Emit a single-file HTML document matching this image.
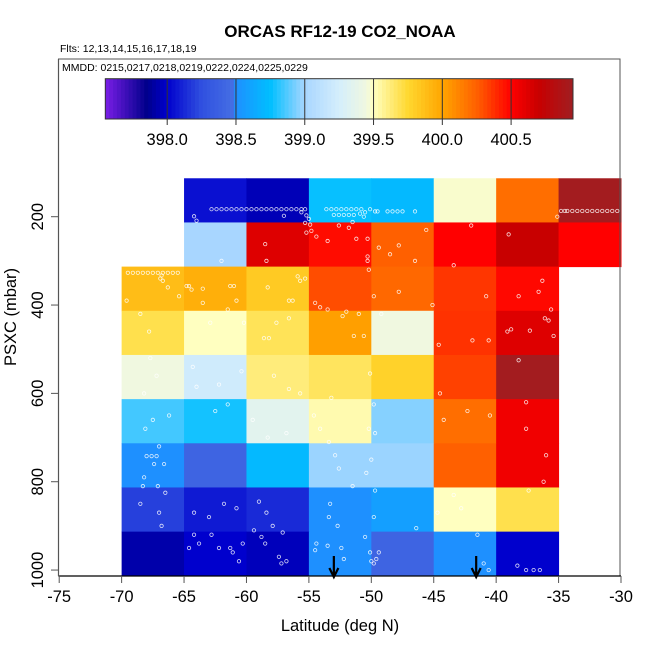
<!DOCTYPE html>
<html><head><meta charset="utf-8"><style>
body{margin:0;background:#fff}
svg{display:block;font-family:"Liberation Sans",sans-serif}
</style></head><body>
<svg id="chart" width="650" height="650" viewBox="0 0 650 650">
<text x="340" y="37" font-size="17" font-weight="bold" text-anchor="middle">ORCAS RF12-19 CO2_NOAA</text>
<text x="60" y="52" font-size="10.5">Flts: 12,13,14,15,16,17,18,19</text>
<g id="cells"></g>
<g id="dots"></g>
<rect x="58.5" y="59" width="561.5" height="517" fill="none" stroke="#555" stroke-width="1"/>
<text x="62" y="71" font-size="10.5">MMDD: 0215,0217,0218,0219,0222,0224,0225,0229</text>
<g id="cbar"></g>
<g id="axes"></g>
<g id="arrows"></g>
<text x="340" y="631" font-size="16.5" text-anchor="middle">Latitude (deg N)</text>
<text transform="translate(16,317) rotate(-90)" font-size="16.5" text-anchor="middle">PSXC (mbar)</text>
</svg>
<script>
const latEdges = [-70,-65,-60,-55,-50,-45,-40,-35];
const presEdges = [113,213,313,413,513,613,713,813,913,1013];
// rows top->bottom (pressure bins), columns -70..-35 ; null = no data
const row0 = [null,398.05,397.95,398.76,398.72,399.48,400.2,400.93];
const row1 = [null,399.0,400.62,400.47,400.25,400.5,400.7,400.5];
const row2 = [399.88,399.95,399.82,400.3,400.22,400.36,400.48,null];
const row3 = [399.7,399.5,399.68,400.02,399.45,400.37,400.62];
const row4 = [399.45,399.22,399.62,399.67,399.78,400.33,400.93];
const row5 = [398.85,398.78,399.35,399.53,398.95,400.2,400.55];
const row6 = [398.5,398.4,398.72,398.98,398.98,400.25,400.55];
const row7 = [398.2,398.08,398.13,398.5,398.58,399.5,399.7];
const row8 = [397.92,398.0,397.96,398.5,398.4,398.5,398.0];
const xTicks = [-75,-70,-65,-60,-55,-50,-45,-40,-35,-30];
const yTicks = [200,400,600,800,1000];
const cbTicks = [398.0,398.5,399.0,399.5,400.0,400.5];
const cbTickLabels = ["398.0","398.5","399.0","399.5","400.0","400.5"];
const arrowLats = [-53.0,-41.6];
// sample point locations
const dotLat = [-62.8,-62.4,-62,-61.6,-61.2,-60.8,-60.4,-60,-59.6,-59.2,-58.8,-58.4,-58,-57.6,-57.2,-56.8,-56.4,-56,-55.6,-55.3,-55.6,-55.2,-55.0,-64.2,-64.0,-57.0,-53.6,-53.2,-52.8,-52.4,-52,-51.6,-51.2,-50.8,-53,-52.6,-52.2,-51.8,-51.4,-50.9,-50.5,-50.1,-49.7,-49.5,-48.7,-48.3,-47.9,-47.5,-46.5,-51.5,-34.3,-33.9,-33.5,-33.1,-32.7,-32.3,-31.9,-31.5,-31.1,-30.7,-30.3,-34.5,-34.8,-35.1,
-69.5,-69.1,-68.7,-68.3,-67.9,-67.5,-67.1,-66.7,-66.3,-65.9,-65.5,-64.8,-64.6,-66.8,-63.5,-61.3,-61,-56.6,-56.3,-58.4,-55.3,-54.9,-54.8,-54.4,-55.2,-52.6,-51.8,-50.6,-51.2,-53.5,-50.3,-50.3,-49.4,-50.3,-50.2,-55.9,-55.7,-55.3,-58.5,-62,-45.6,-47.8,-46.5,-48.5,-42,-40.8,-36.3,-39,-43.4,-38.2,-36.6,-39.1,-35.4,-35.6,-35.8,
-68.5,-65.4,-67.8,-62.9,-60.2,-58.6,-58.2,-57.6,-56.6,-60.8,-61.5,-64.4,-69.6,-66.9,-66.7,-66.3,-63.5,-58.3,-51,-47.8,-54.5,-54.1,-53.5,-52,-52.3,-51.4,-49.8,-49.2,-50.6,-45.1,-44.6,-40.6,-38.8,-38.2,-37.3,-36.1,-41.9,
-67.7,-64.3,-67.2,-64.0,-62.2,-60.4,-57.8,-56.6,-55.7,-54.6,-53.2,-50.1,-49.8,-44.5,-42.3,-37.6,-68.2,-67.5,-66.2,-68.1,-67.0,-62.5,-61.5,-59.5,-58.3,-56.8,-54.1,-53.4,-50.2,-49.7,-44.2,-40.5,-37.6,
-68.0,-67.6,-67.2,-67.4,-66.6,-68.2,-67.1,-68.3,-66.5,-68.5,-67.0,-66.8,-64.2,-62.8,-63.0,-61.8,-60.8,-59.0,-58.4,-57.9,-57.1,-58.8,-60.3,-61.3,-62.2,-64.6,-64.2,-63.8,-61.1,-60.6,-57.4,-57.2,-56.8,-58.5,-59.4,-52.9,-52.6,-51.5,-53.3,-53.4,-52.7,-53.5,-52.4,-54.4,-54.5,-52.2,-50.0,-50.4,-49.7,-49.8,-50.5,-49.6,-50.1,-50.0,-49.8,-49.4,-46.4,-44.7,-43.4,-42.8,-41.5,-41.0,-40.6,-38.3,-37.6,-36.5,-37.0,-37.4,-36.2,-36.0];
const dotPres = [183,183,183,183,183,183,183,183,183,183,183,183,183,183,183,183,183,183,183,183,190,197,205,199,209,198,183,183,183,183,183,183,183,183,196,196,196,196,196,193,190,183,188,188,188,188,188,188,188,212,187,187,187,187,187,187,187,187,187,187,187,187,187,200,
327,327,327,327,327,327,327,327,327,327,327,357,357,333,363,357,357,390,390,300,214,218,232,245,236,220,225,200,250,255,250,300,270,290,320,335,345,340,262,300,230,265,300,285,220,380,345,240,310,380,370,460,470,410,435,
420,380,460,440,440,475,475,440,430,390,410,365,390,340,345,360,395,360,420,370,395,405,410,415,425,470,380,420,470,400,490,480,455,525,458,430,480,
520,540,560,585,580,550,560,590,600,650,610,555,625,600,640,620,600,660,650,680,720,640,625,660,700,690,680,710,680,690,660,650,680,
742,742,742,760,760,790,810,810,825,850,870,900,870,920,880,850,860,845,870,900,915,925,940,950,950,950,920,940,960,980,970,985,980,940,910,740,770,810,850,880,900,945,950,940,955,975,750,780,820,880,925,975,960,980,985,960,905,870,830,860,920,985,1000,990,1000,1000,1000,820,800,740];
const SVGNS = "http://www.w3.org/2000/svg";
const xMin=-75, xMax=-30, xL=59.2, xR=621;
function xs(lat){return xL+(lat-xMin)*(xR-xL)/(xMax-xMin);}
function ys(p){return 216.7+(p-200)*0.4417;}
const cbMin=397.55, cbMax=400.95, cbL=105.3, cbR=573;
function cbx(v){return cbL+(v-cbMin)*(cbR-cbL)/(cbMax-cbMin);}
const stopVals=[397.55,397.85,398.0,398.25,398.49,398.5,398.75,399.0,399.25,399.45,399.5,399.75,400.0,400.25,400.5,400.7,400.95];
const stopCols=["#7a1ee6","#00008b","#0000cd","#3050e0","#4670e4","#1e90ff","#00bfff","#a8d6ff","#d4eefc","#f0f8e0","#ffffc0","#ffd830","#ffa500","#ff6000","#ff0000","#c80000","#a01e22"];
function hex2rgb(h){return [parseInt(h.substr(1,2),16),parseInt(h.substr(3,2),16),parseInt(h.substr(5,2),16)];}
function colorOf(v){
  if(v<=stopVals[0])return stopCols[0];
  for(let i=1;i<stopVals.length;i++){
    if(v<=stopVals[i]){
      const t=(v-stopVals[i-1])/(stopVals[i]-stopVals[i-1]);
      const a=hex2rgb(stopCols[i-1]),b=hex2rgb(stopCols[i]);
      return "rgb("+a.map((c,k)=>Math.round(c+(b[k]-c)*t)).join(",")+")";
    }
  }
  return stopCols[stopCols.length-1];
}
function mk(tag,attrs,parent){const e=document.createElementNS(SVGNS,tag);for(const k in attrs)e.setAttribute(k,attrs[k]);parent.appendChild(e);return e;}
// cells
const rows=[row0,row1,row2,row3,row4,row5,row6,row7,row8];
const gc=document.getElementById("cells");
rows.forEach((row,ri)=>{
  row.forEach((v,ci)=>{
    if(v===null||v===undefined)return;
    const x0=xs(latEdges[ci]), x1=ci+1<latEdges.length?xs(latEdges[ci+1]):xs(latEdges[ci]+5);
    const y0=ys(presEdges[ri]), y1=ys(presEdges[ri+1]);
    const r=mk("rect",{x:x0,y:y0,width:x1-x0+0.5,height:y1-y0+0.5,fill:colorOf(v)},gc);
    
    
  });
});
// dots
const gd=document.getElementById("dots");
for(let i=0;i<Math.min(dotLat.length,dotPres.length);i++){
  const c=mk("circle",{cx:xs(dotLat[i]),cy:ys(dotPres[i]),r:1.7,fill:"none",stroke:"#fff","stroke-width":0.8,opacity:0.85},gd);
  
  
}
// colorbar
const gb=document.getElementById("cbar");
const nSteps=120;
for(let i=0;i<nSteps;i++){
  const v0=cbMin+(cbMax-cbMin)*i/nSteps, v1=cbMin+(cbMax-cbMin)*(i+1)/nSteps;
  const r=mk("rect",{x:cbx(v0),y:78.7,width:cbx(v1)-cbx(v0)+0.4,height:40.3,fill:colorOf((v0+v1)/2)},gb);
  
  
}
const cbBorder=mk("rect",{x:cbL,y:78.7,width:cbR-cbL,height:40.3,fill:"none",stroke:"#333","stroke-width":1},gb);


cbTicks.forEach((v,i)=>{
  const l=mk("line",{x1:cbx(v),x2:cbx(v),y1:78.7,y2:125,stroke:"#333","stroke-width":1},gb);
  
  
  const t=mk("text",{x:cbx(v),y:145,"font-size":16.5,"text-anchor":"middle"},gb);
  t.textContent=cbTickLabels[i];
  
  
});
// axes
const ga=document.getElementById("axes");
const xa=mk("line",{x1:xs(-75),x2:xs(-30),y1:576,y2:576,stroke:"#000","stroke-width":1.2},ga);


xTicks.forEach(v=>{
  const l=mk("line",{x1:xs(v),x2:xs(v),y1:576,y2:583,stroke:"#555","stroke-width":1},ga);
  
  
  const t=mk("text",{x:xs(v),y:602,"font-size":16.5,"text-anchor":"middle"},ga);
  t.textContent=String(v);
  
  
});
const ya=mk("line",{x1:58.5,x2:58.5,y1:59,y2:576,stroke:"#555","stroke-width":1.2},ga);


yTicks.forEach(v=>{
  const l=mk("line",{x1:51,x2:58.5,y1:ys(v),y2:ys(v),stroke:"#555","stroke-width":1},ga);
  
  
  const t=mk("text",{transform:"translate(43,"+ys(v)+") rotate(-90)","font-size":16.5,"text-anchor":"middle"},ga);
  t.textContent=String(v);
  
  
});
// arrows
const gr=document.getElementById("arrows");
arrowLats.forEach(lat=>{
  const x=xs(lat);
  const a=mk("path",{d:"M"+x+",556 L"+x+",576 M"+(x-4.5)+",568 L"+x+",577 L"+(x+4.5)+",568",stroke:"#000","stroke-width":2.2,fill:"none"},gr);
  
  
});
</script>
</body></html>
